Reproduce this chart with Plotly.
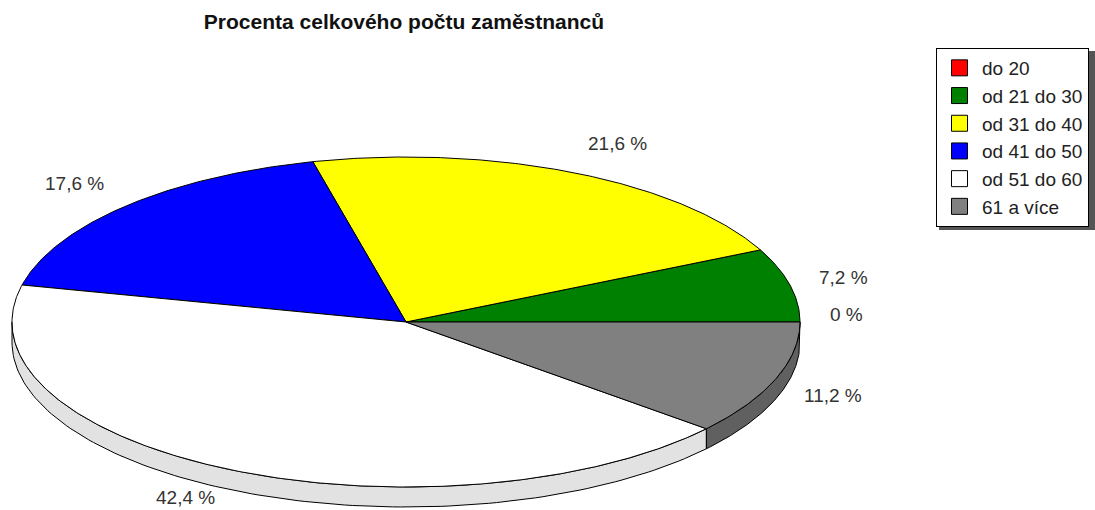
import numpy as np
import plotly.graph_objects as go

# ---- data ----
title_text = "Procenta celkového počtu zaměstnanců"
categories = ["do 20", "od 21 do 30", "od 31 do 40", "od 41 do 50", "od 51 do 60", "61 a více"]
percent = [0.0, 7.2, 21.6, 17.6, 42.4, 11.2]
top_colors = ["#ff0000", "#008000", "#ffff00", "#0000ff", "#ffffff", "#808080"]
side_colors = ["#c00000", "#005000", "#c0c000", "#0000a0", "#e2e2e2", "#606060"]

# ---- geometry (pixel-space axes) ----
W, H = 1095, 510
CX, CY = 406, 322
RX, RY = 394, 165
DEPTH = 20
EDGE = "#000000"


def pt(theta_deg, dy=0.0):
    t = np.radians(theta_deg)
    return CX + RX * np.cos(t), CY - RY * np.sin(t) + dy


total = sum(percent)
starts, ends = [], []
acc = 0.0
for v in percent:
    starts.append(acc / total * 360.0)
    acc += v
    ends.append(acc / total * 360.0)

fig = go.Figure()

# side walls (front half only)
for i, v in enumerate(percent):
    a1, a2 = max(starts[i], 180.0), min(ends[i], 360.0)
    if v <= 0 or a2 <= a1:
        continue
    th = np.linspace(a1, a2, 120)
    xt, yt = pt(th)
    xb, yb = pt(th[::-1], DEPTH)
    xs = np.concatenate([xt, xb, xt[:1]])
    ys = np.concatenate([yt, yb, yt[:1]])
    fig.add_trace(go.Scatter(x=xs, y=ys, mode="lines", fill="toself",
                             fillcolor=side_colors[i], line=dict(color=EDGE, width=1),
                             hoverinfo="skip", showlegend=False))

# top faces
for i, v in enumerate(percent):
    if v <= 0:
        continue
    n = max(int((ends[i] - starts[i]) * 2), 8)
    th = np.linspace(starts[i], ends[i], n)
    xa, ya = pt(th)
    xs = np.concatenate([[CX], xa, [CX]])
    ys = np.concatenate([[CY], ya, [CY]])
    fig.add_trace(go.Scatter(x=xs, y=ys, mode="lines", fill="toself",
                             fillcolor=top_colors[i], line=dict(color=EDGE, width=1),
                             name=categories[i], hoverinfo="name", showlegend=False))

# legend entries
for i, c in enumerate(categories):
    fig.add_trace(go.Scatter(x=[None], y=[None], mode="markers", name=c,
                             legendgroup=f"g{i}",
                             marker=dict(symbol="square", size=16, color=top_colors[i],
                                         line=dict(color="#000000", width=1))))

# value labels
for i, v in enumerate(percent):
    mid = (starts[i] + ends[i]) / 2.0
    t = np.radians(mid)
    c, s = np.cos(t), np.sin(t)
    lx = CX + (RX + 28) * c
    if s >= -1e-9:
        ly = CY - (RY + 32) * s - (8 if abs(s) < 1e-9 else 0)
    else:
        ly = CY - (RY + 20) * s + DEPTH / 2
    if c > 0.3:
        xa = "left"
    elif c < -0.3:
        xa = "right"
    else:
        xa = "center"
    txt = f"{v:g}".replace(".", ",") + " %"
    fig.add_annotation(x=lx, y=ly, text=txt, showarrow=False, xanchor=xa, yanchor="middle",
                       font=dict(family="Liberation Sans, Arial, sans-serif", size=19, color="#333333"))

# legend shadow
fig.add_shape(type="rect", xref="paper", yref="paper",
              x0=939 / W, x1=1.1, y0=1 - 230 / H, y1=1 - 51 / H,
              fillcolor="#555555", line=dict(width=0), layer="below")

fig.update_layout(
    width=W, height=H,
    margin=dict(l=0, r=0, t=0, b=0),
    paper_bgcolor="#ffffff", plot_bgcolor="#ffffff",
    title=dict(text=f"<b>{title_text}</b>", x=404 / W, xanchor="center",
               y=1 - 22 / H, yanchor="middle", yref="container",
               font=dict(family="Liberation Sans, Arial, sans-serif", size=21, color="#111111")),
    xaxis=dict(range=[0, W], visible=False, fixedrange=True),
    yaxis=dict(range=[H, 0], visible=False, fixedrange=True),
    showlegend=True,
    legend=dict(x=936 / W, y=1 - 48 / H, xanchor="left", yanchor="top",
                bgcolor="#ffffff", bordercolor="#000000", borderwidth=1,
                tracegroupgap=2, traceorder="normal", itemwidth=35,
                font=dict(family="Liberation Sans, Arial, sans-serif", size=19, color="#222222")),
)

fig.write_html("out.html")
